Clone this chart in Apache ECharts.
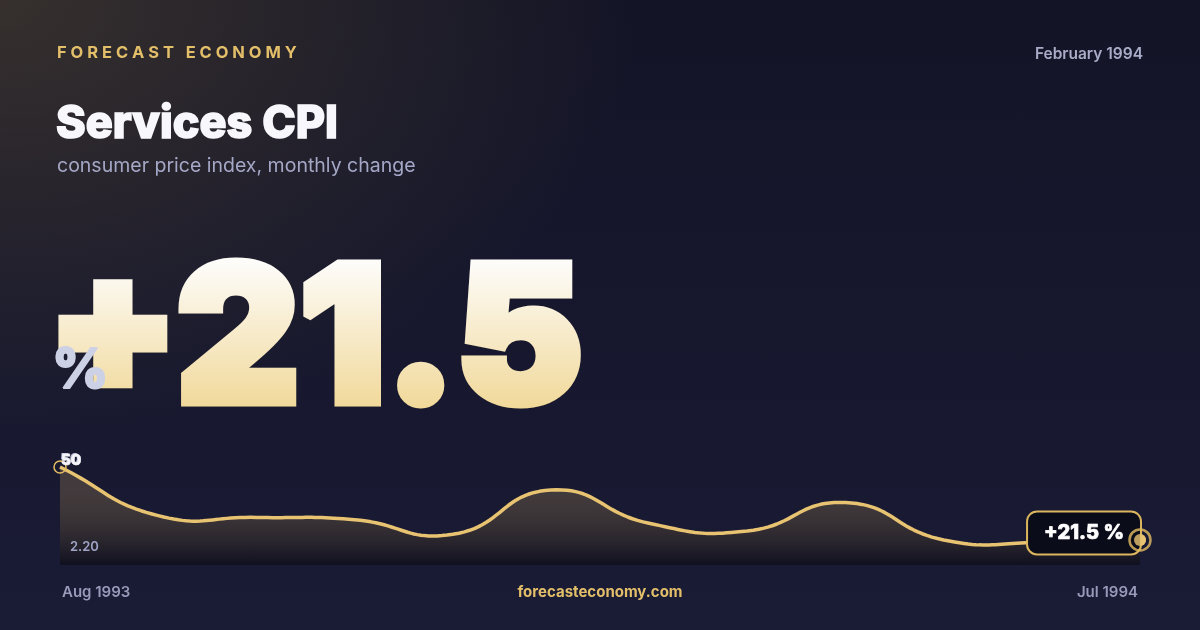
<!DOCTYPE html>
<html>
<head>
<meta charset="utf-8">
<script src="https://cdn.jsdelivr.net/npm/echarts@6/dist/echarts.min.js"></script>
<style>
  html, body { margin: 0; padding: 0; }
  body {
    width: 1200px; height: 630px; overflow: hidden;
    background:
      radial-gradient(ellipse 820px 560px at 0% 0%, rgba(66,57,48,0.75), rgba(66,57,48,0) 78%),
      linear-gradient(180deg, #131426 0%, #1a1b35 100%);
  }
  #main { width: 1200px; height: 630px; }
</style>
</head>
<body>
<div id="main"></div>
<script>
// monthly series
var months = ['Aug 1993', 'Sep 1993', 'Oct 1993', 'Nov 1993', 'Dec 1993', 'Jan 1994',
              'Feb 1994', 'Mar 1994', 'Apr 1994', 'May 1994', 'Jun 1994', 'Jul 1994'];
var cpi = [50, 31.0, 30.3, 29.4, 23.7, 41.0, 28.0, 25.0, 36.1, 21.5, 20.5, 21.5];
var yMin = 11.7;
var yMax = 50;
var headline = '+21.5';
var lastLabel = '+21.5 %';
var minLabel = '2.20';

var gold = '#e8c472';
var last = cpi.length - 1;
var SMOOTH = 0.5;

var myChart = echarts.init(document.getElementById('main'), null, { renderer: 'canvas' });

// text can't take a gradient fill, so the big number goes on its own layer,
// painted white, and a gradient rect is laid over it with source-atop
var bigFont = '900 190px Inter';
var bigBox = { x: 40, y: 250, width: 570, height: 175 };
var bigFill = new echarts.graphic.LinearGradient(0, 0.07, 0, 0.92, [
  { offset: 0, color: '#fdfcf9' },
  { offset: 1, color: '#f1d898' }
]);

// cardinal-style curve through the projected points (no overshoot clamp,
// the reference dips between points the way the old line smoothing did)
function curvePoints(pts) {
  var n = pts.length, out = [pts[0]];
  var cps = pts.map(function (p, i) {
    var prev = pts[Math.max(i - 1, 0)], next = pts[Math.min(i + 1, n - 1)];
    var vx = next[0] - prev[0], vy = next[1] - prev[1];
    var d0 = Math.hypot(p[0] - prev[0], p[1] - prev[1]);
    var d1 = Math.hypot(next[0] - p[0], next[1] - p[1]);
    var s = d0 + d1 || 1;
    d0 /= s; d1 /= s;
    return {
      before: [p[0] - vx * SMOOTH * d0, p[1] - vy * SMOOTH * d0],
      after: [p[0] + vx * SMOOTH * d1, p[1] + vy * SMOOTH * d1]
    };
  });
  for (var i = 0; i < n - 1; i++) {
    var a = pts[i], b = pts[i + 1], c1 = cps[i].after, c2 = cps[i + 1].before;
    for (var k = 1; k <= 24; k++) {
      var t = k / 24, u = 1 - t;
      out.push([
        u * u * u * a[0] + 3 * u * u * t * c1[0] + 3 * u * t * t * c2[0] + t * t * t * b[0],
        u * u * u * a[1] + 3 * u * u * t * c1[1] + 3 * u * t * t * c2[1] + t * t * t * b[1]
      ]);
    }
  }
  return out;
}

function renderCurve(params, api) {
  if (params.dataIndex !== 0) return;
  var pts = cpi.map(function (v, i) { return api.coord([i, v]); });
  var curve = curvePoints(pts);
  var base = api.coord([0, yMin])[1];
  var area = curve.concat([[pts[last][0], base], [pts[0][0], base]]);
  return {
    type: 'group',
    children: [
      {
        type: 'polygon',
        shape: { points: area },
        style: {
          fill: new echarts.graphic.LinearGradient(0, 0, 0, 1, [
            { offset: 0, color: 'rgba(226,186,112,0.20)' },
            { offset: 1, color: 'rgba(8,8,16,0.55)' }
          ])
        }
      },
      {
        type: 'polyline',
        shape: { points: curve },
        style: { fill: null, stroke: gold, lineWidth: 3.5, lineJoin: 'round' }
      }
    ]
  };
}

var markData = cpi.map(function (v, i) {
  if (i === 0) {
    return {
      value: v, symbol: 'circle', symbolSize: 12,
      itemStyle: { color: 'rgba(0,0,0,0)', borderColor: '#e3bd62', borderWidth: 1.5 },
      label: {
        show: true, position: [8, -7], align: 'left', verticalAlign: 'top',
        formatter: '{c}', color: '#f4f4fa', fontSize: 15, fontWeight: 800,
        fontFamily: 'Inter', textBorderColor: '#f4f4fa', textBorderWidth: 0.6
      }
    };
  }
  if (i === last) {
    return {
      value: v, symbol: 'circle', symbolSize: 12,
      itemStyle: { color: gold, borderWidth: 0 },
      label: {
        show: true, position: 'left', distance: -6, offset: [0, -7],
        formatter: lastLabel, color: '#ffffff', fontSize: 20, fontWeight: 800,
        fontFamily: 'Inter', textBorderColor: '#ffffff', textBorderWidth: 0.7,
        backgroundColor: '#0b0c19', borderColor: '#dcb65e', borderWidth: 2,
        borderRadius: 9, padding: [11, 16, 10, 16]
      }
    };
  }
  return { value: v, symbol: 'none' };
});

var option = {
  backgroundColor: 'transparent',
  animation: false,
  grid: { left: 60, right: 60, top: 467, bottom: 65 },
  xAxis: {
    type: 'category',
    boundaryGap: false,
    data: months,
    axisLine: { show: false },
    axisTick: { show: false },
    splitLine: { show: false },
    axisLabel: {
      interval: function (i) { return i === 0 || i === last; },
      margin: 20,
      color: '#979ab9',
      fontSize: 15,
      fontWeight: 600,
      fontFamily: 'Inter',
      alignMinLabel: 'left',
      alignMaxLabel: 'right',
      padding: [0, 2, 0, 2]
    }
  },
  yAxis: {
    type: 'value',
    min: yMin,
    max: yMax,
    axisLine: { show: false },
    axisTick: { show: false },
    splitLine: { show: false },
    axisLabel: {
      inside: true,
      showMinLabel: false,
      margin: 0,
      verticalAlign: 'bottom',
      color: '#bfc2d8',
      fontSize: 15,
      fontWeight: 800,
      fontFamily: 'Inter',
      formatter: function (v) { return v === yMax ? String(yMax) : ''; }
    }
  },
  series: [
    {
      type: 'custom',
      z: 2,
      silent: true,
      clip: false,
      data: cpi.map(function (v, i) { return [i, v]; }),
      renderItem: renderCurve
    },
    {
      // end markers and their labels
      type: 'line',
      z: 3,
      data: markData,
      lineStyle: { opacity: 0, width: 0 }
    },
    {
      // ring round the latest value
      type: 'scatter',
      z: 4,
      data: [[last, cpi[last]]],
      symbol: 'circle',
      symbolSize: 21,
      silent: true,
      itemStyle: { color: 'rgba(0,0,0,0)', borderColor: '#e3bd62', borderWidth: 2.5 }
    },
    {
      type: 'scatter',
      z: 4,
      data: [[last, cpi[last]]],
      symbol: 'circle',
      symbolSize: 12,
      silent: true,
      itemStyle: { color: gold }
    }
  ],
  graphic: [
    {
      type: 'text', x: 57, y: 53,
      style: {
        text: 'F O R E C A S T   E C O N O M Y',
        font: '700 16.5px Inter', fill: '#e3bf6a',
        verticalAlign: 'middle'
      }
    },
    {
      type: 'text', x: 1143, y: 54,
      style: {
        text: 'February 1994', font: '600 15.5px Inter', fill: '#a9acc8',
        align: 'right', verticalAlign: 'middle'
      }
    },
    {
      type: 'text', x: 56, y: 124,
      style: {
        text: 'Services CPI', font: '800 45px Inter', fill: '#f8f8fc',
        stroke: '#f8f8fc', lineWidth: 1.6, lineJoin: 'round',
        verticalAlign: 'middle'
      }
    },
    {
      type: 'text', x: 57, y: 166,
      style: {
        text: 'consumer price index, monthly change', font: '400 19.5px Inter',
        fill: '#a4a7c6', verticalAlign: 'middle'
      }
    },
    {
      // drop shadow, on the base layer under the number
      type: 'text', x: 47, y: 345, z: 5,
      style: {
        text: headline, font: bigFont,
        fill: '#0b0b16', stroke: '#0b0b16', lineWidth: 9, lineJoin: 'miter',
        verticalAlign: 'middle',
        shadowBlur: 26, shadowColor: 'rgba(0,0,0,0.55)', shadowOffsetY: 10
      }
    },
    {
      type: 'text', x: 47, y: 345, zlevel: 1, z: 5, z2: 1,
      style: {
        text: headline, font: bigFont,
        fill: '#ffffff', stroke: '#ffffff', lineWidth: 9, lineJoin: 'miter',
        verticalAlign: 'middle'
      }
    },
    {
      type: 'rect', zlevel: 1, z: 5, z2: 2, silent: true,
      shape: bigBox,
      style: { fill: bigFill, blend: 'source-atop' }
    },
    {
      type: 'text', x: 52, y: 371, zlevel: 1, z: 6, z2: 3,
      style: {
        text: '%', font: '800 55px Inter', fill: '#cdd1e6',
        stroke: '#cdd1e6', lineWidth: 2, lineJoin: 'round',
        verticalAlign: 'middle'
      }
    },
    {
      type: 'text', x: 70, y: 547, z: 6,
      style: {
        text: minLabel, font: '600 13px Inter', fill: '#9ea2c4',
        verticalAlign: 'middle'
      }
    },
    {
      type: 'text', x: 600, y: 592,
      style: {
        text: 'forecasteconomy.com', font: '700 15px Inter', fill: '#e3bf6a',
        align: 'center', verticalAlign: 'middle'
      }
    }
  ]
};

myChart.setOption(option);
</script>
</body>
</html>
